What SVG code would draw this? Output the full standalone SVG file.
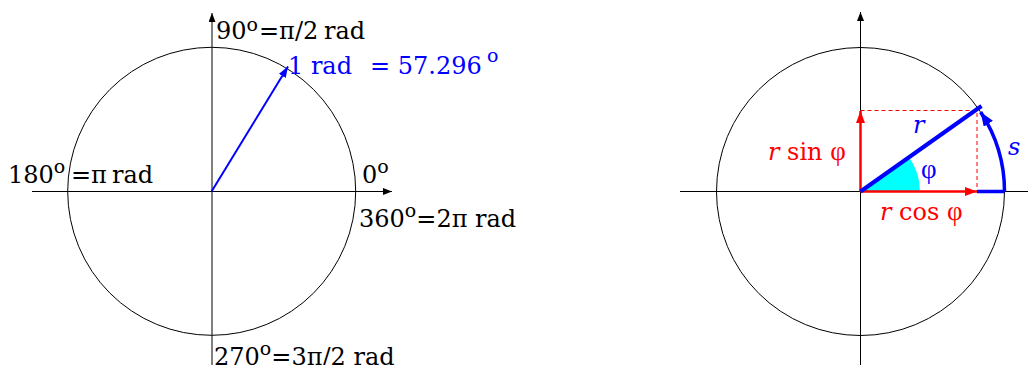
<svg xmlns="http://www.w3.org/2000/svg" width="1028" height="365" viewBox="0 0 1028 365">
<style>
.t{font-family:"DejaVu Serif","Liberation Serif",serif;font-size:24px;}
.sup{font-size:19px;}
.ph{font-family:"Liberation Serif",serif;font-size:27px;}
.it{font-style:italic;}
.ax{stroke:#000;stroke-width:1;fill:none;}
</style>
<defs>
<marker id="ahK" markerUnits="userSpaceOnUse" markerWidth="10" markerHeight="8" refX="9" refY="3.5" orient="auto"><path d="M0,0 L9,3.5 L0,7 z" fill="#000"/></marker>
<marker id="ahB" markerUnits="userSpaceOnUse" markerWidth="12" markerHeight="10" refX="11" refY="4" orient="auto"><path d="M0,0 L11,4 L0,8 z" fill="#00f"/></marker>
<marker id="ahR" markerUnits="userSpaceOnUse" markerWidth="14" markerHeight="10" refX="12" refY="4.5" orient="auto"><path d="M0,0 L12,4.5 L0,9 z" fill="#f00"/></marker>
<marker id="ahB2" markerUnits="userSpaceOnUse" markerWidth="16" markerHeight="12" refX="14" refY="5.5" orient="auto"><path d="M0,0 L14,5.5 L0,11 z" fill="#00f"/></marker>
</defs>

<g id="left-diagram">
<circle cx="211.7" cy="191.3" r="144" class="ax"/>
<g id="left-axes">
<line x1="32" y1="191.5" x2="392" y2="191.5" class="ax" marker-end="url(#ahK)"/>
<line x1="212" y1="365" x2="212" y2="13" class="ax" marker-end="url(#ahK)"/>
<line x1="211.7" y1="191.3" x2="288" y2="66.5" stroke="#00f" stroke-width="2" marker-end="url(#ahB)"/>
</g>
<text class="t" x="216" y="39">90<tspan class="sup" dy="-8.5">o</tspan><tspan x="259" dy="8.5">=π/2</tspan><tspan x="324">rad</tspan></text>
<text class="t" fill="#00f" x="288" y="74">1 rad<tspan x="370">= 57.296</tspan><tspan class="sup" x="487" y="62">o</tspan></text>
<text class="t" x="8" y="183.3">180<tspan class="sup" dy="-10">o</tspan><tspan x="71" dy="10">=π</tspan><tspan x="112">rad</tspan></text>
<text class="t" x="362" y="183.3">0<tspan class="sup" dy="-10">o</tspan></text>
<text class="t" x="359" y="226.7">360<tspan class="sup" dy="-10">o</tspan><tspan dy="10">=2π rad</tspan></text>
<text class="t" x="214" y="365">270<tspan class="sup" dy="-10">o</tspan><tspan dy="10">=3π/2 rad</tspan></text>
</g>

<g id="right-diagram">
<circle cx="860.5" cy="191.5" r="144" class="ax"/>
<line x1="680" y1="191.5" x2="1028" y2="191.5" class="ax"/>
<line x1="860.5" y1="365" x2="860.5" y2="12" class="ax" marker-end="url(#ahK)"/>
<path id="angle" d="M860.5,191.5 L920,191.5 A59.5,59.5 0 0 0 909.2,157.4 Z" fill="#0ff"/>
<g id="connectors">
<path d="M860.5,110.5 H977 V191.5" stroke="#f00" stroke-width="1" stroke-dasharray="4,3" fill="none"/>
<line x1="860.5" y1="191.5" x2="860.5" y2="111" stroke="#f00" stroke-width="2.5" marker-end="url(#ahR)"/>
<line x1="860.5" y1="191.5" x2="977" y2="191.5" stroke="#f00" stroke-width="2.5" marker-end="url(#ahR)"/>
<line x1="860.5" y1="191.5" x2="981.5" y2="106" stroke="#00f" stroke-width="4"/>
<line x1="977" y1="191.5" x2="1004.5" y2="191.5" stroke="#00f" stroke-width="3.5"/>
<path d="M1004.5,191.5 A144,144 0 0 0 980.6,112" stroke="#00f" stroke-width="3.5" fill="none" marker-end="url(#ahB2)"/>
</g>
<text class="t" fill="#f00" x="768" y="160"><tspan class="it">r</tspan> sin <tspan class="ph">φ</tspan></text>
<text class="t" fill="#f00" x="880" y="219.5"><tspan class="it">r</tspan> cos <tspan class="ph">φ</tspan></text>
<text class="t it" fill="#00f" x="913" y="133">r</text>
<text class="ph" fill="#00f" x="921" y="178">φ</text>
<text class="t it" fill="#00f" x="1008" y="155">s</text>
</g>
</svg>
